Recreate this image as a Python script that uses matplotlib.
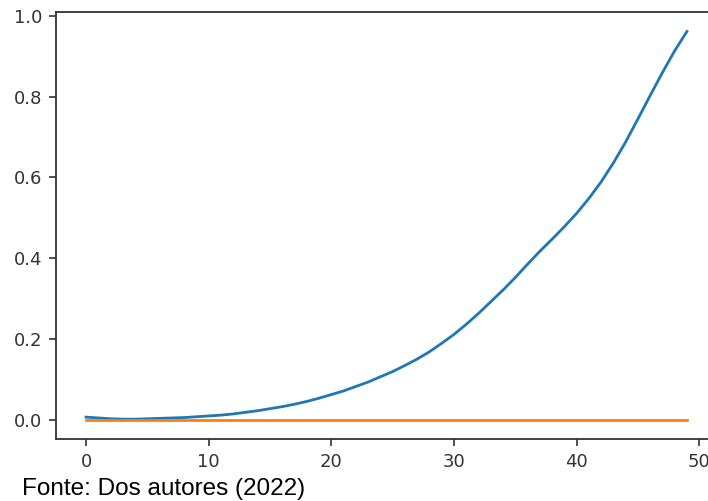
import matplotlib.pyplot as plt

# values (epoch index 0..49)
epochs = list(range(50))
blue_vals = [0.006, 0.004, 0.002, 0.001, 0.001, 0.002, 0.003, 0.004, 0.005, 0.007,
             0.009, 0.011, 0.014, 0.018, 0.022, 0.027, 0.032, 0.038, 0.045, 0.053,
             0.062, 0.071, 0.082, 0.093, 0.106, 0.119, 0.134, 0.150, 0.168, 0.189,
             0.211, 0.236, 0.263, 0.292, 0.321, 0.352, 0.385, 0.417, 0.447, 0.478,
             0.511, 0.548, 0.589, 0.636, 0.688, 0.745, 0.803, 0.860, 0.914, 0.962]
orange_vals = [0.0] * 50

x_ticks = [0, 10, 20, 30, 40, 50]
y_ticks = [0.0, 0.2, 0.4, 0.6, 0.8, 1.0]
source_note = 'Fonte: Dos autores (2022)'

fig = plt.figure(figsize=(7.08, 5.01), dpi=100)
# axes run slightly past the right edge, as in the cropped screenshot
ax = fig.add_axes([0.0791, 0.1238, 0.9336, 0.8522])

ax.plot(epochs, blue_vals, color='#1f77b4', lw=2.0)
ax.plot(epochs, orange_vals, color='#ff7f0e', lw=2.0)

ax.set_xticks(x_ticks)
ax.set_yticks(y_ticks)
ax.set_yticklabels(['{:.1f}'.format(v) for v in y_ticks])
ax.tick_params(labelsize=13, colors='#333333', length=5, width=1.2, pad=5)
for s in ax.spines.values():
    s.set_color('#333333')
    s.set_linewidth(1.3)

fig.text(22 / 708, 6 / 501, source_note, fontsize=17.5, family='Liberation Sans',
         color='black', va='baseline', ha='left',
         bbox=dict(facecolor='white', edgecolor='none', pad=1))

fig.savefig('out.png', dpi=100)
